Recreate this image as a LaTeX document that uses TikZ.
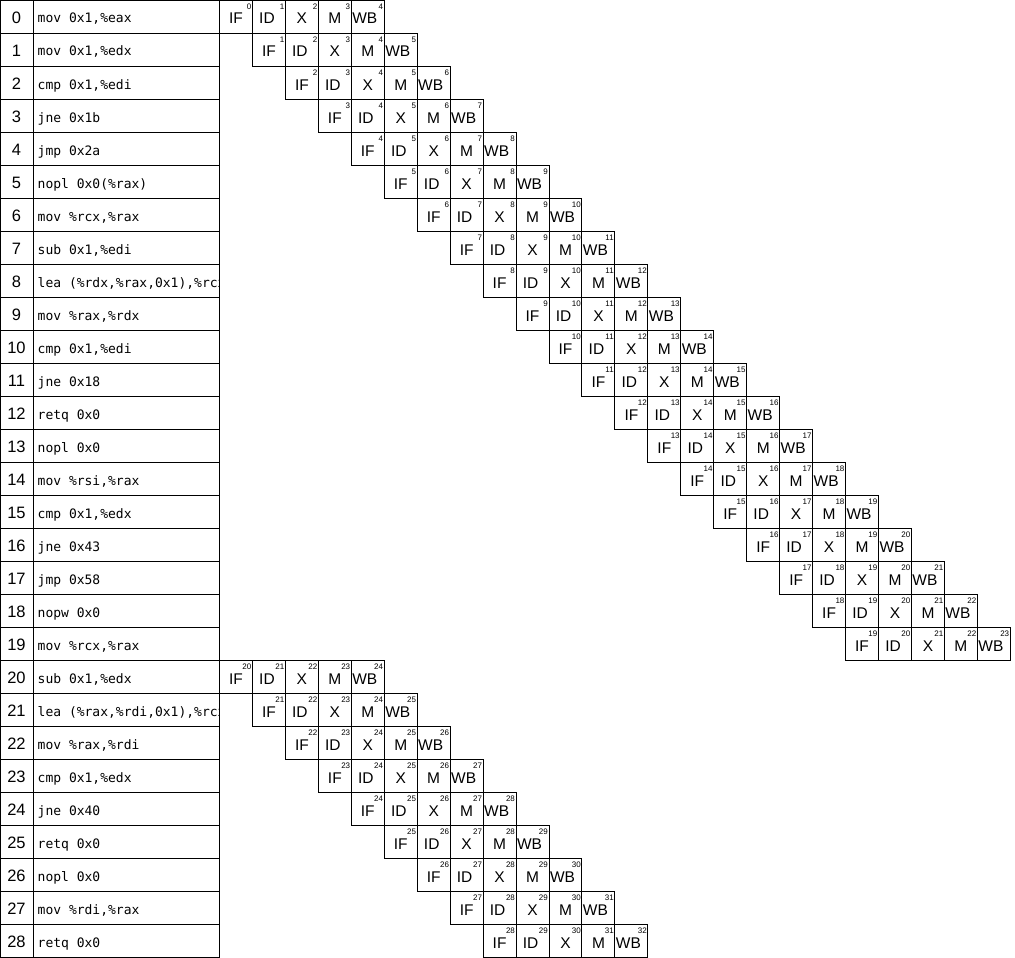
\documentclass[tikz,border=0pt]{standalone}
\usepackage{fontspec}
\setmainfont{Liberation Sans}
\newfontfamily\monof{DejaVu Sans Mono}
\begin{document}
\begin{tikzpicture}[x=1pt,y=-1pt,
  cellline/.style={draw=black,line width=1pt},
  numtext/.style={inner sep=0pt,anchor=base,font=\fontsize{16.5}{16.5}\selectfont},
  instext/.style={inner sep=0pt,anchor=base west,font=\monof\fontsize{13}{13}\selectfont},
  stagetext/.style={inner sep=0pt,anchor=base,font=\fontsize{15.5}{15.5}\selectfont},
  suptext/.style={inner sep=0pt,anchor=base east,font=\fontsize{8}{8}\selectfont}]
\useasboundingbox (0,0) rectangle (1015,958);
\foreach \t [count=\i from 0] in {
  {mov 0x1,\%eax},{mov 0x1,\%edx},{cmp 0x1,\%edi},{jne 0x1b},{jmp 0x2a},
  {nopl 0x0(\%rax)},{mov \%rcx,\%rax},{sub 0x1,\%edi},{lea (\%rdx,\%rax,0x1),\%rcx},
  {mov \%rax,\%rdx},{cmp 0x1,\%edi},{jne 0x18},{retq 0x0},{nopl 0x0},
  {mov \%rsi,\%rax},{cmp 0x1,\%edx},{jne 0x43},{jmp 0x58},{nopw 0x0},
  {mov \%rcx,\%rax},{sub 0x1,\%edx},{lea (\%rax,\%rdi,0x1),\%rcx},{mov \%rax,\%rdi},
  {cmp 0x1,\%edx},{jne 0x40},{retq 0x0},{nopl 0x0},{mov \%rdi,\%rax},{retq 0x0}} {
  \pgfmathsetmacro\yt{0.5+33*\i}
  \pgfmathsetmacro\yb{\yt+33}
  \draw[cellline] (0.5,\yt) rectangle (33.5,\yb);
  \draw[cellline] (33.5,\yt) rectangle (219.5,\yb);
  \node[numtext] (num\i) at (16.5,\yt+23) {\i};
  \begin{scope}
    \clip (34,\yt) rectangle (219,\yb);
    \node[instext] (ins\i) at (37.5,\yt+22.5) {\t};
  \end{scope}
  \pgfmathtruncatemacro\c{\i<20 ? \i : \i-20}
  \foreach \s/\dx [count=\k from 0] in {IF/0,ID/-2,X/0,M/0,WB/-3} {
    \pgfmathsetmacro\xl{219.5+32.95*(\c+\k)}
    \pgfmathtruncatemacro\n{\i+\k}
    \draw[cellline] (\xl,\yt) rectangle ++(32.95,33);
    \node[stagetext] (st\i-\k) at (\xl+16.5+\dx,\yt+23.5) {\s};
    \node[suptext] (sup\i-\k) at (\xl+32,\yt+9) {\n};
  }
}
\end{tikzpicture}
\end{document}
